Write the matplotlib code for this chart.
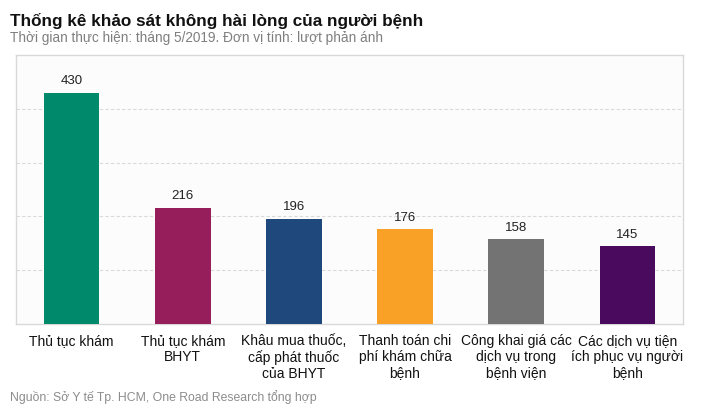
import matplotlib.pyplot as plt

plt.rcParams['font.family'] = ['Liberation Sans', 'DejaVu Sans']

# ---- Data ----
categories = [
    "Thủ tục khám",
    "Thủ tục khám\nBHYT",
    "Khâu mua thuốc,\ncấp phát thuốc\ncủa BHYT",
    "Thanh toán chi\nphí khám chữa\nbệnh",
    "Công khai giá các\ndịch vụ trong\nbệnh viện",
    "Các dịch vụ tiện\ních phục vụ người\nbệnh",
]
values = [430, 216, 196, 176, 158, 145]
colors = ["#00896B", "#961E5A", "#1F497D", "#F9A126", "#737373", "#4A0A5E"]

# ---- Figure ----
fig = plt.figure(figsize=(7.12, 4.19), dpi=100)
ax = fig.add_axes([16 / 712, 1 - 324 / 419, 667 / 712, 269 / 419])
ax.set_facecolor("#FCFCFC")

x = range(len(categories))
bars = ax.bar(x, values, width=0.5, color=colors, zorder=3)

for xi, v in zip(x, values):
    ax.text(xi, v + 10, str(v), ha="center", va="bottom", fontsize=9.5, color="#222222")

ax.set_xlim(-0.5, len(categories) - 0.5)
ax.set_ylim(0, 500)
ax.set_yticks([100, 200, 300, 400])
ax.yaxis.grid(True, color="#D9D9D9", linestyle=(0, (3, 2)), linewidth=0.8, zorder=0)
ax.tick_params(axis="y", left=False, labelleft=False)
ax.tick_params(axis="x", bottom=False, pad=4)
ax.set_xticks(list(x))
ax.set_xticklabels(categories, fontsize=10, color="#111111", linespacing=1.15, va="top")
for s in ax.spines.values():
    s.set_color("#D9D9D9")
    s.set_linewidth(1)

# ---- Titles ----
fig.text(10 / 712, 1 - 21 / 419, "Thống kê khảo sát không hài lòng của người bệnh",
         fontsize=12.3, fontweight="bold", color="#111111", va="center")
fig.text(10 / 712, 1 - 38 / 419, "Thời gian thực hiện: tháng 5/2019. Đơn vị tính: lượt phản ánh",
         fontsize=9.8, color="#7F7F7F", va="center")
fig.text(10 / 712, 1 - 397 / 419, "Nguồn: Sở Y tế Tp. HCM, One Road Research tổng hợp",
         fontsize=8.8, color="#8C8C8C", va="center")

fig.savefig("out.png", dpi=100, facecolor="white")
